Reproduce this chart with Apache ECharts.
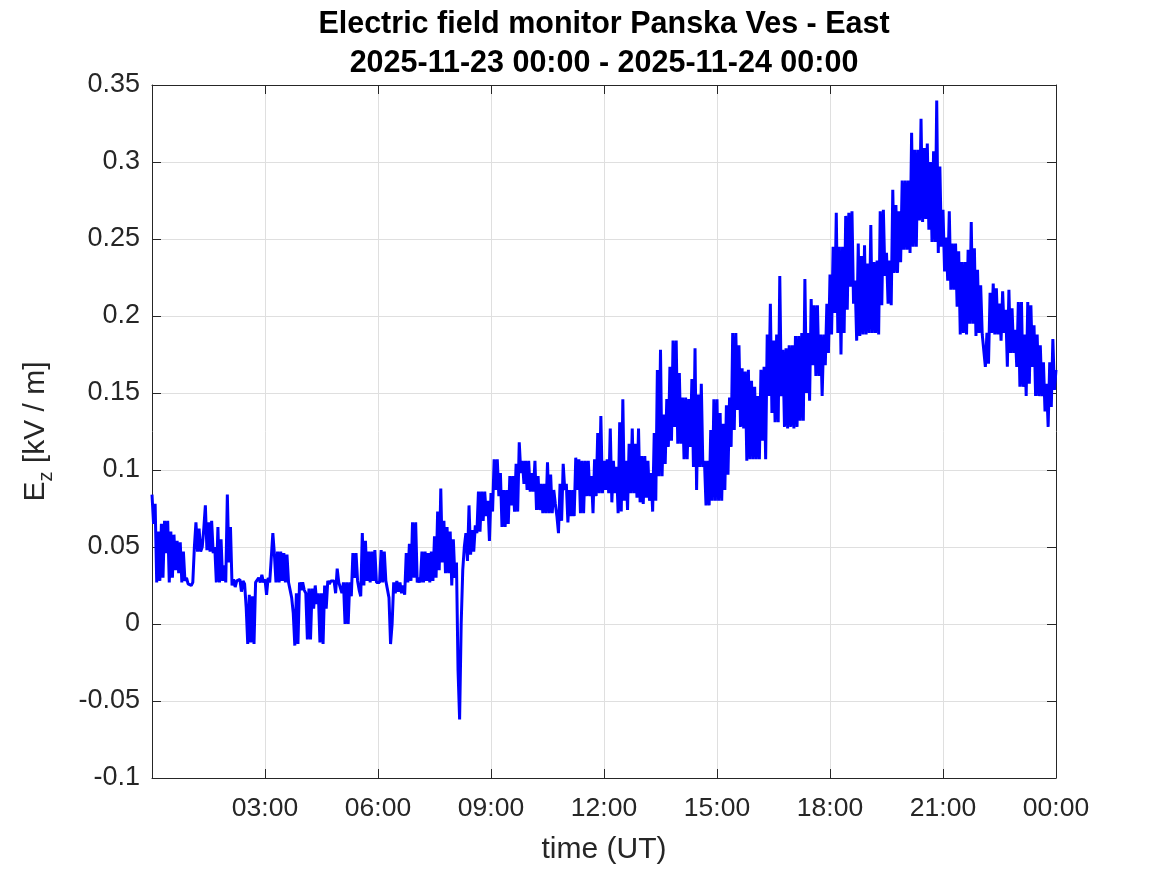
<!DOCTYPE html>
<html>
<head>
<meta charset="utf-8">
<title>Electric field monitor Panska Ves - East</title>
<script src="https://cdn.jsdelivr.net/npm/echarts@6/dist/echarts.min.js"></script>
<style>
  html, body { margin: 0; padding: 0; background: #fff; }
  #chart { width: 1167px; height: 875px; }
</style>
</head>
<body>
<div id="chart"></div>
<script>
// sampling step of the series, minutes (one hour per line below)
const stepMinutes = 2.5;

// vertical field Ez in kV/m, 2025-11-23 00:00 .. 2025-11-24 00:00
const ez = [
  0.084,0.065,0.078,0.027,0.060,0.028,0.065,0.030,0.067,0.046,0.067,0.027,0.060,0.030,0.058,0.035,0.054,0.033,0.053,0.027,0.047,0.028,0.030,0.026,
  0.026,0.025,0.027,0.050,0.066,0.047,0.062,0.047,0.050,0.062,0.077,0.048,0.066,0.047,0.067,0.046,0.050,0.027,0.063,0.027,0.055,0.028,0.038,0.027,
  0.084,0.040,0.063,0.025,0.029,0.024,0.028,0.027,0.029,0.021,0.028,0.026,0.011,-0.013,0.019,-0.012,0.018,-0.013,0.027,0.028,0.030,0.027,0.032,0.027,
  0.029,0.019,0.030,0.027,0.028,0.059,0.045,0.027,0.047,0.027,0.047,0.028,0.046,0.027,0.045,0.027,0.027,0.017,0.007,-0.014,0.020,-0.013,0.027,0.022,
  0.027,0.022,0.020,-0.010,0.023,-0.010,0.023,0.010,0.025,0.013,0.020,-0.012,0.020,-0.013,0.025,0.010,0.028,0.026,0.028,0.027,0.028,0.020,0.036,0.027,
  0.027,0.020,0.027,0.000,0.027,0.000,0.027,0.018,0.046,0.030,0.046,0.028,0.022,0.018,0.059,0.025,0.054,0.028,0.047,0.027,0.047,0.028,0.048,0.027,
  0.028,0.027,0.048,0.027,0.047,0.028,0.027,0.017,-0.013,0.000,0.027,0.020,0.028,0.021,0.027,0.020,0.025,0.019,0.046,0.027,0.052,0.028,0.066,0.030,
  0.066,0.027,0.030,0.027,0.047,0.027,0.047,0.028,0.046,0.027,0.047,0.028,0.057,0.030,0.073,0.035,0.088,0.040,0.067,0.033,0.063,0.033,0.060,0.025,
  0.055,0.030,0.040,-0.030,-0.062,0.000,0.035,0.050,0.059,0.041,0.077,0.045,0.061,0.047,0.064,0.059,0.086,0.060,0.086,0.067,0.086,0.070,0.080,0.054,
  0.085,0.073,0.107,0.087,0.107,0.083,0.098,0.063,0.087,0.063,0.087,0.065,0.096,0.077,0.096,0.073,0.104,0.073,0.118,0.098,0.106,0.091,0.106,0.087,
  0.106,0.086,0.098,0.086,0.106,0.074,0.096,0.074,0.091,0.072,0.091,0.072,0.105,0.072,0.097,0.072,0.087,0.078,0.070,0.059,0.091,0.067,0.104,0.087,
  0.091,0.066,0.087,0.070,0.087,0.070,0.108,0.087,0.107,0.072,0.106,0.072,0.106,0.083,0.106,0.083,0.096,0.072,0.107,0.083,0.124,0.085,0.135,0.085,
  0.106,0.087,0.107,0.085,0.127,0.079,0.106,0.085,0.102,0.072,0.131,0.073,0.146,0.080,0.106,0.074,0.117,0.085,0.127,0.085,0.117,0.082,0.127,0.079,
  0.109,0.078,0.109,0.082,0.106,0.080,0.098,0.073,0.124,0.080,0.165,0.096,0.178,0.096,0.136,0.104,0.146,0.115,0.167,0.119,0.184,0.128,0.184,0.117,
  0.163,0.117,0.147,0.107,0.147,0.107,0.146,0.115,0.159,0.102,0.179,0.087,0.149,0.102,0.156,0.102,0.106,0.077,0.106,0.077,0.126,0.080,0.146,0.080,
  0.146,0.080,0.137,0.080,0.130,0.087,0.142,0.097,0.147,0.115,0.189,0.126,0.189,0.139,0.181,0.128,0.166,0.127,0.164,0.106,0.165,0.107,0.158,0.107,
  0.154,0.107,0.148,0.107,0.165,0.119,0.167,0.107,0.188,0.148,0.208,0.137,0.184,0.131,0.188,0.131,0.226,0.148,0.178,0.128,0.179,0.127,0.181,0.128,
  0.181,0.127,0.187,0.128,0.187,0.132,0.189,0.132,0.224,0.150,0.189,0.145,0.211,0.168,0.207,0.161,0.207,0.161,0.188,0.148,0.188,0.168,0.208,0.176,
  0.227,0.188,0.245,0.202,0.267,0.189,0.245,0.175,0.245,0.189,0.265,0.204,0.267,0.219,0.268,0.208,0.223,0.184,0.247,0.187,0.239,0.188,0.246,0.188,
  0.234,0.189,0.259,0.189,0.235,0.189,0.236,0.188,0.268,0.207,0.269,0.226,0.241,0.208,0.236,0.207,0.282,0.228,0.272,0.228,0.268,0.235,0.288,0.243,
  0.288,0.243,0.288,0.241,0.319,0.245,0.308,0.245,0.308,0.262,0.328,0.261,0.309,0.263,0.312,0.256,0.300,0.248,0.307,0.248,0.340,0.241,0.297,0.245,
  0.269,0.229,0.251,0.223,0.268,0.217,0.247,0.217,0.247,0.206,0.242,0.188,0.235,0.189,0.235,0.188,0.243,0.195,0.261,0.195,0.244,0.187,0.230,0.189,
  0.220,0.188,0.188,0.167,0.189,0.169,0.215,0.189,0.221,0.188,0.218,0.188,0.208,0.184,0.216,0.189,0.204,0.167,0.217,0.176,0.205,0.176,0.191,0.167,
  0.209,0.154,0.209,0.154,0.188,0.148,0.209,0.156,0.207,0.167,0.194,0.148,0.188,0.148,0.181,0.148,0.170,0.138,0.156,0.128,0.170,0.141,0.185,0.152,
  0.165
];

// x tick labels every 3 hours (no label at the left edge)
const timeTickLabels = ['', '03:00', '06:00', '09:00', '12:00', '15:00', '18:00', '21:00', '00:00'];

const titleLines = ['Electric field monitor Panska Ves - East', '2025-11-23 00:00 - 2025-11-24 00:00'];

const points = ez.map((v, i) => [i * stepMinutes / 60, v]);

const font = '"Liberation Sans", Arial, Helvetica, sans-serif';
const axisColor = '#262626';
const gridColor = '#dfdfdf';

const boxAxis = {
  show: true,
  axisLine: { show: true, onZero: false, lineStyle: { color: axisColor, width: 1 } },
  axisTick: { show: true, inside: true, length: 9, lineStyle: { color: axisColor, width: 1 } },
  axisLabel: { show: false },
  splitLine: { show: false }
};

const chart = echarts.init(document.getElementById('chart'));
chart.setOption({
  animation: false,
  backgroundColor: '#fff',
  grid: { left: 152, right: 111, top: 85, bottom: 97, containLabel: false, outerBoundsMode: 'none' },
  graphic: titleLines.map((t, i) => ({
    type: 'text',
    x: 604,
    y: 25 + i * 39,
    style: {
      text: t,
      align: 'center',
      verticalAlign: 'middle',
      fontFamily: font,
      fontSize: 30.5,
      fontWeight: 'bold',
      fill: '#000'
    }
  })),
  xAxis: [
    {
      type: 'value',
      min: 0,
      max: 24,
      interval: 3,
      position: 'bottom',
      name: 'time (UT)',
      nameLocation: 'middle',
      nameGap: 57,
      nameTextStyle: { fontFamily: font, fontSize: 30, color: axisColor },
      axisLine: { show: true, onZero: false, lineStyle: { color: axisColor, width: 1 } },
      axisTick: { show: true, inside: true, length: 9, lineStyle: { color: axisColor, width: 1 } },
      axisLabel: {
        fontFamily: font, fontSize: 26.5, color: axisColor, margin: 17,
        formatter: (v) => timeTickLabels[Math.round(v / 3)]
      },
      splitLine: { show: true, lineStyle: { color: gridColor, width: 1 } }
    },
    Object.assign({ type: 'value', min: 0, max: 24, interval: 3, position: 'top' }, boxAxis)
  ],
  yAxis: [
    {
      type: 'value',
      min: -0.1,
      max: 0.35,
      interval: 0.05,
      position: 'left',
      name: '{n|E}{s|z}{n| [kV / m]}',
      nameLocation: 'middle',
      nameGap: 96,
      nameRotate: 90,
      nameTextStyle: {
        color: axisColor,
        rich: {
          n: { fontFamily: font, fontSize: 30, color: axisColor, lineHeight: 40 },
          s: { fontFamily: font, fontSize: 20, color: axisColor, lineHeight: 10, verticalAlign: 'bottom' }
        }
      },
      axisLine: { show: true, onZero: false, lineStyle: { color: axisColor, width: 1 } },
      axisTick: { show: true, inside: true, length: 9, lineStyle: { color: axisColor, width: 1 } },
      axisLabel: { fontFamily: font, fontSize: 27, color: axisColor, margin: 12 },
      splitLine: { show: true, lineStyle: { color: gridColor, width: 1 } }
    },
    Object.assign({ type: 'value', min: -0.1, max: 0.35, interval: 0.05, position: 'right' }, boxAxis)
  ],
  series: [
    {
      type: 'line',
      xAxisIndex: 0,
      yAxisIndex: 0,
      data: points,
      showSymbol: false,
      symbol: 'none',
      sampling: null,
      lineStyle: { color: '#0000ff', width: 3 },
      emphasis: { disabled: true },
      z: 3
    }
  ]
});
</script>
</body>
</html>
